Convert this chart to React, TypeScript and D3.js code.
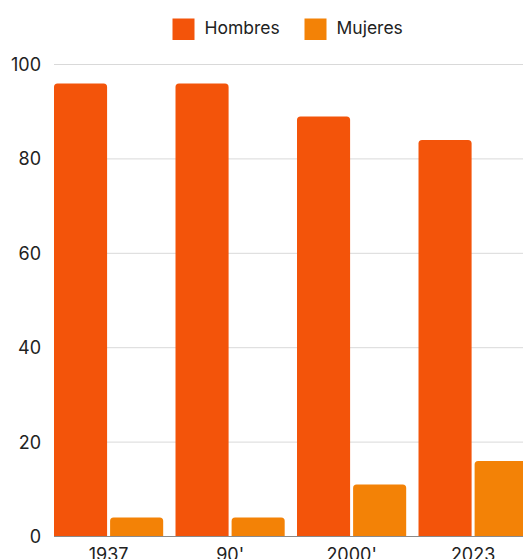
import React from "react";
import * as d3 from "d3";

const categories = ["1937", "90'", "2000'", "2023"];
const seriesNames = ["Hombres", "Mujeres"];
const hombres = [96, 96, 89, 84];
const mujeres = [4, 4, 11, 16];
const yTicks = [0, 20, 40, 60, 80, 100];
const colors = ["#F3540A", "#F38206"];

const W = 523;
const H = 559;
const plotLeft = 54;
const plotRight = 527.7;
const plotTop = 64.5;
const plotBottom = 536.5;
const font = "Inter, 'Noto Sans', sans-serif";

function topRoundedRect(x: number, y: number, w: number, h: number, r: number) {
  const rr = Math.min(r, h, w / 2);
  return `M${x},${y + h}V${y + rr}Q${x},${y} ${x + rr},${y}H${x + w - rr}Q${x + w},${y} ${x + w},${y + rr}V${y + h}Z`;
}

export default function App() {
  const x0 = d3
    .scaleBand<string>()
    .domain(categories)
    .range([plotLeft, plotRight])
    .paddingInner(12.3 / 121.3)
    .paddingOuter(0)
    .align(0);
  const x1 = d3
    .scaleBand<string>()
    .domain(seriesNames)
    .range([0, x0.bandwidth()])
    .paddingInner(3 / 56);
  const y = d3.scaleLinear().domain([0, 100]).range([plotBottom, plotTop]);

  const values = [hombres, mujeres];

  return (
    <div style={{ position: "absolute", left: 0, top: 0, width: W, height: H, overflow: "hidden" }}>
      <svg width={W} height={H} style={{ display: "block", fontFamily: font }}>
        <rect width={W} height={H} fill="#ffffff" />
        {/* legend */}
        {seriesNames.map((name, i) => {
          const lx = [172.5, 304.5][i];
          return (
            <g key={name}>
              <rect x={lx} y={18.5} width={22} height={21.5} fill={colors[i]} />
              <text x={lx + 32} y={34} fontSize={17.5} fill="#222">
                {name}
              </text>
            </g>
          );
        })}
        {/* gridlines and y tick labels */}
        {yTicks.map((t) => (
          <g key={t}>
            {t !== 0 && (
              <line x1={plotLeft} x2={W} y1={y(t)} y2={y(t)} stroke="#d9d9d9" strokeWidth={1} />
            )}
            <text x={41} y={y(t) + 6.5} textAnchor="end" fontSize={18} fill="#222">
              {t}
            </text>
          </g>
        ))}
        {/* bars */}
        {categories.map((c, ci) => (
          <g key={c}>
            {seriesNames.map((s, si) => {
              const v = values[si][ci];
              const bx = (x0(c) ?? 0) + (x1(s) ?? 0);
              const by = y(v);
              return (
                <path
                  key={s}
                  d={topRoundedRect(bx, by, x1.bandwidth(), plotBottom - by, 3.5)}
                  fill={colors[si]}
                />
              );
            })}
            <text
              x={(x0(c) ?? 0) + x0.bandwidth() / 2}
              y={560.5}
              textAnchor="middle"
              fontSize={18}
              fill="#222"
            >
              {c}
            </text>
          </g>
        ))}
        {/* baseline */}
        <line x1={plotLeft} x2={W} y1={plotBottom} y2={plotBottom} stroke="#8a8a8a" strokeWidth={1.2} />
      </svg>
    </div>
  );
}
